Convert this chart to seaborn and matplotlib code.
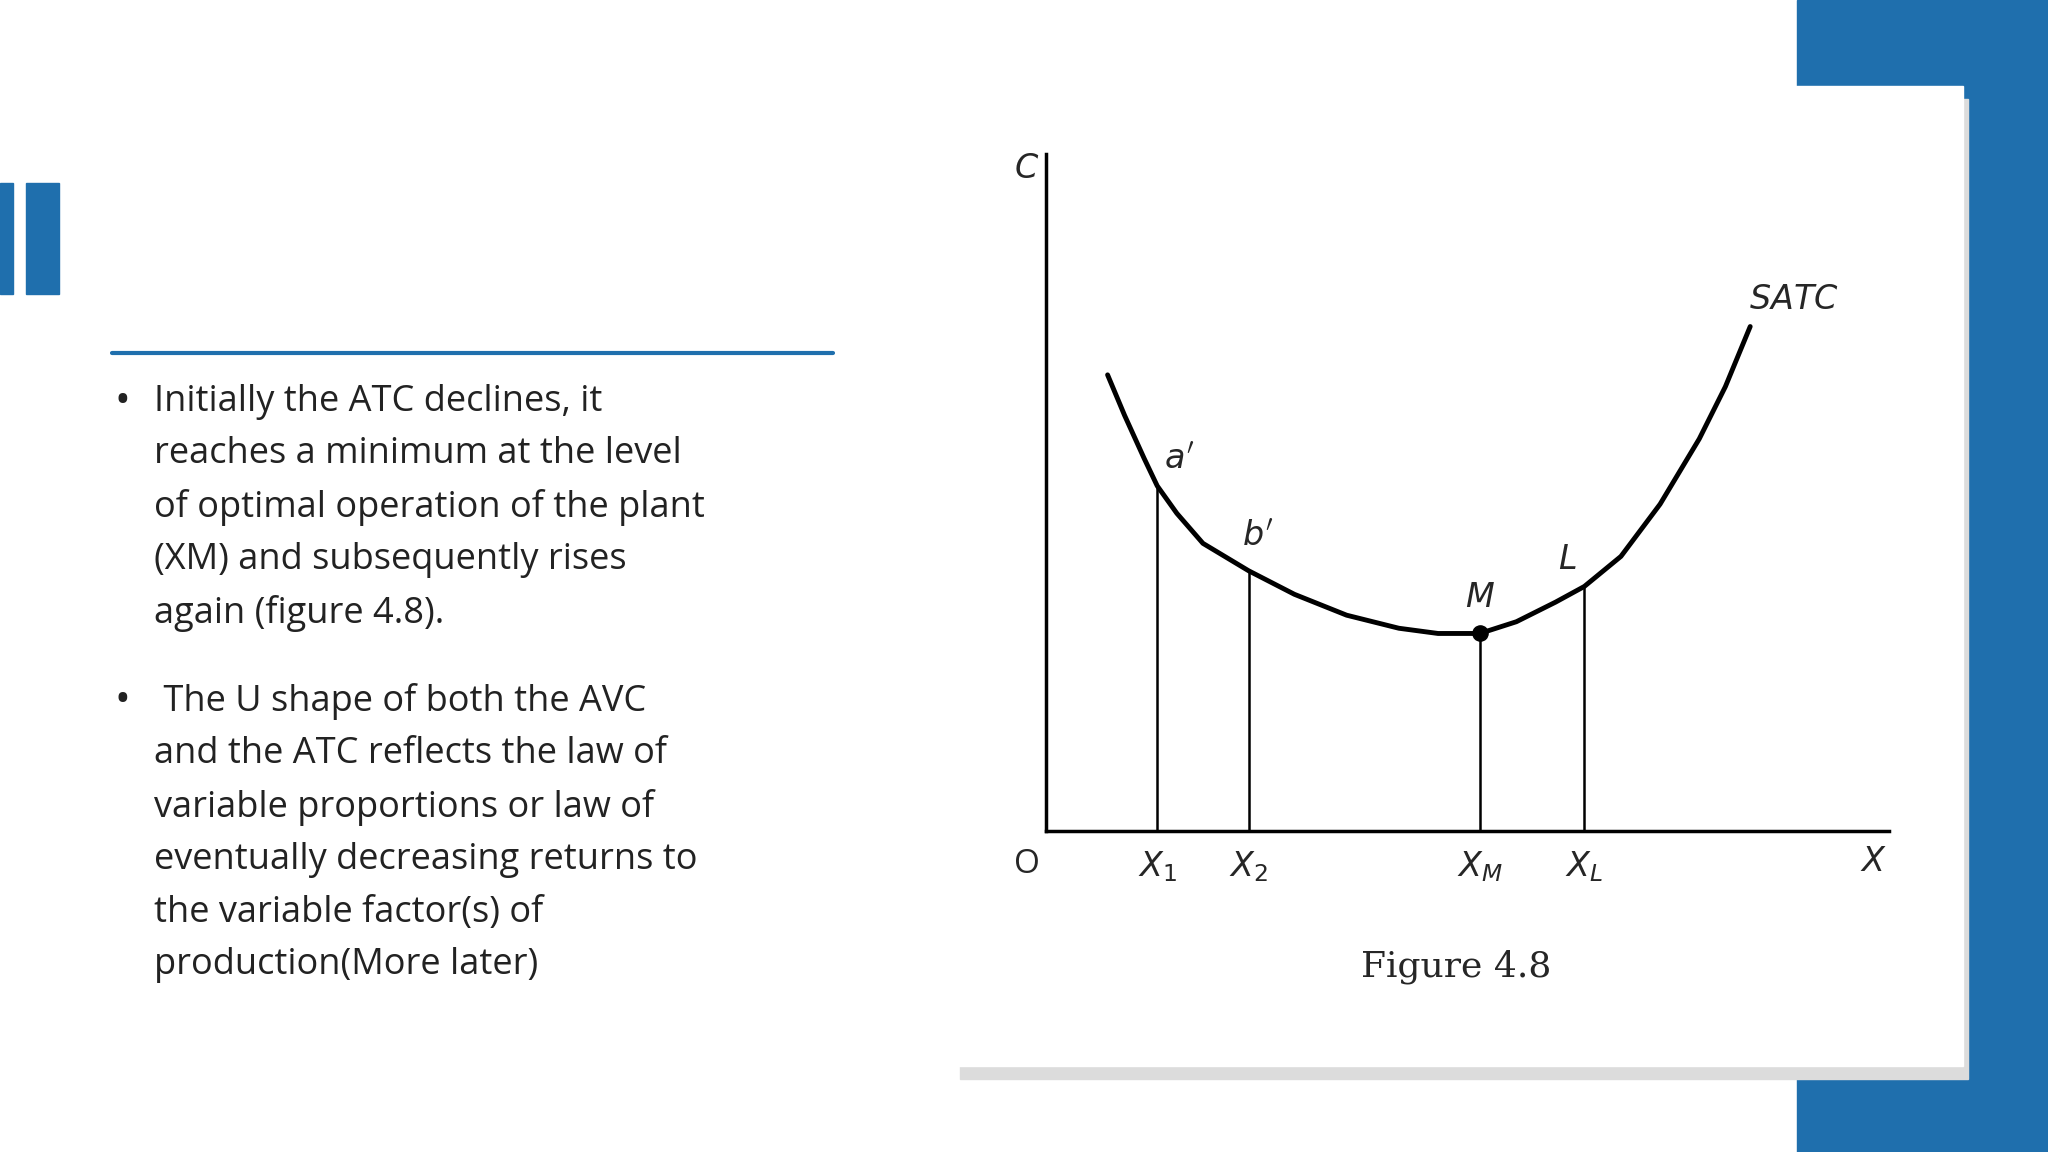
import matplotlib
matplotlib.use("Agg")
import matplotlib.pyplot as plt
import seaborn as sns
import pandas as pd
from matplotlib.patches import Rectangle

sns.set_style("white")
plt.rcParams['font.family'] = ['Open Sans', 'DejaVu Sans']

# curve data (output x, cost)
curve_x = [47, 60, 75, 85, 100, 120, 155, 190, 230, 270, 300, 332, 360, 390, 412, 440, 470, 500, 520, 539]
curve_y = [349, 318, 285, 264, 243, 220, 199, 181, 165, 155, 151, 151, 160, 175, 187, 210, 250, 300, 340, 386]
mark_x = [85, 155, 332, 412]
mark_y = [264, 199, 151, 187]
mark_labels = ['$X_1$', '$X_2$', '$X_M$', '$X_L$']
point_labels = ["$a'$", "$b'$", "$M$", "$L$"]
bullets = [
    "Initially the ATC declines, it\nreaches a minimum at the level\nof optimal operation of the plant\n(XM) and subsequently rises\nagain (figure 4.8).",
    " The U shape of both the AVC\nand the ATC reflects the law of\nvariable proportions or law of\neventually decreasing returns to\nthe variable factor(s) of\nproduction(More later)",
]

W, H = 1568, 882
def fx(x): return x / W
def fy(y): return 1 - y / H

blue = '#1F6FAD'
fig = plt.figure(figsize=(20.48, 11.52), dpi=100)
def rect(x, y, w, h, c):
    fig.patches.append(Rectangle((fx(x), fy(y + h)), w / W, h / H, transform=fig.transFigure,
                                 color=c, zorder=-5))
rect(1376, 0, 200, 882, blue)
rect(0, 140, 10, 85, blue)
rect(20, 140, 25, 85, blue)
rect(735, 76, 772, 750, '#dcdcdc')
rect(731, 66, 772, 750, 'white')
fig.lines.append(plt.Line2D([fx(86), fx(638)], [fy(270), fy(270)], transform=fig.transFigure,
                            color=blue, lw=3, zorder=-4))

ys = [308, 537]
for b, y in zip(bullets, ys):
    fig.text(fx(88), fy(y), "•", fontsize=30, va='center', ha='left', color='#222222')
    fig.text(fx(118), fy(y - 14), b, fontsize=26, va='top', ha='left', color='#222222',
             linespacing=1.6)

ax = fig.add_axes([fx(801), fy(636), 645 / W, 518 / H], zorder=5)
ax.set_facecolor('none')
df = pd.DataFrame({'x': curve_x, 'y': curve_y})
sns.lineplot(data=df, x='x', y='y', ax=ax, color='black', lw=3.5)
ax.vlines(mark_x, 0, mark_y, color='black', lw=1.8)
ax.scatter([mark_x[2]], [mark_y[2]], s=120, color='black', zorder=5)
ax.set_xlim(0, 645)
ax.set_ylim(0, 518)
for s in ['top', 'right']:
    ax.spines[s].set_visible(False)
for s in ['left', 'bottom']:
    ax.spines[s].set_linewidth(2.5)
    ax.spines[s].set_color('black')
ax.set_xticks([]); ax.set_yticks([])
ax.set_xlabel(''); ax.set_ylabel('')

fs = 24
kw = dict(fontsize=fs, ha='center', va='center', clip_on=False)
ax.text(-15, 506, '$C$', **kw)
ax.text(-15, -26, 'O', **kw)
ax.text(633, -24, '$X$', **kw)
for x, l in zip(mark_x, mark_labels):
    ax.text(x, -28, l, **kw)
offs = [(17, 20), (7, 26), (0, 27), (-13, 20)]
for x, y, l, (dx, dy) in zip(mark_x, mark_y, point_labels, offs):
    ax.text(x + dx, y + dy, l, **kw)
ax.text(572, 406, '$SATC$', **kw)
ax.text(314, -104, 'Figure 4.8', fontsize=26, ha='center', va='center', family='DejaVu Serif',
        clip_on=False)

fig.savefig('out.png', dpi=100)
